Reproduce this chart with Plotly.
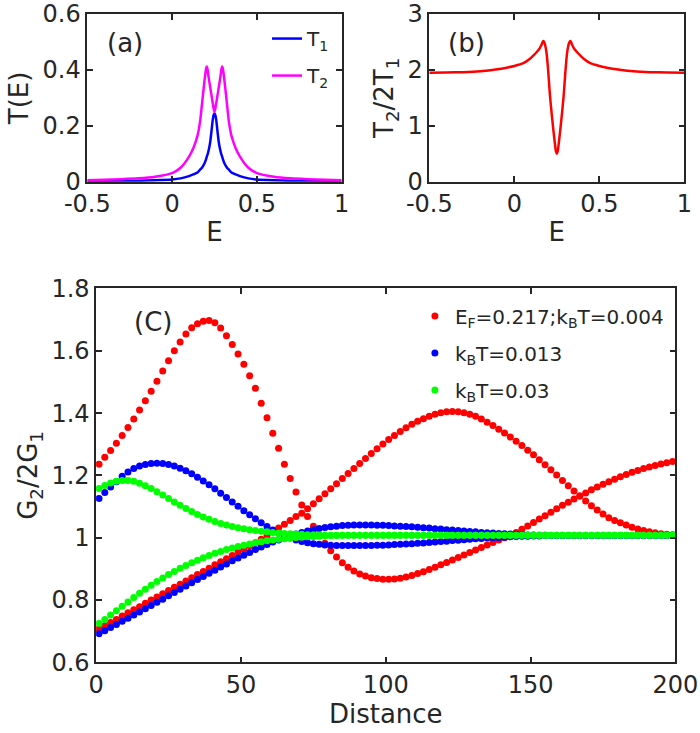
import plotly.graph_objects as go

# Painel (a): transmissões T1 e T2 em função da energia
energy_a = [
    -0.5, -0.4, -0.3, -0.2, -0.1, 0.0, 0.05, 0.1, 0.125, 0.15, 0.165, 0.175,
    0.19, 0.2, 0.204, 0.207, 0.21, 0.215, 0.22, 0.225, 0.23, 0.24, 0.245, 0.25,
    0.255, 0.26, 0.27, 0.275, 0.28, 0.285, 0.29, 0.293, 0.296, 0.3, 0.31,
    0.325, 0.335, 0.35, 0.375, 0.4, 0.45, 0.5, 0.6, 0.7, 0.8, 0.9, 1.0,
]
t1 = [
    0.001, 0.0015, 0.002, 0.003, 0.005, 0.008, 0.012, 0.02, 0.026, 0.033, 0.043,
    0.049, 0.064, 0.08, 0.088, 0.094, 0.099, 0.111, 0.125, 0.143, 0.168, 0.222,
    0.238, 0.245,
    0.238, 0.222, 0.168, 0.143, 0.125, 0.111, 0.099, 0.094, 0.088, 0.08, 0.064,
    0.049, 0.043, 0.033, 0.026, 0.02, 0.012, 0.008, 0.005, 0.003, 0.002, 0.0015,
    0.001,
]
t2 = [
    0.005, 0.007, 0.009, 0.012, 0.018, 0.031, 0.05, 0.09, 0.12, 0.165, 0.215,
    0.27, 0.355, 0.402, 0.412, 0.408, 0.398, 0.376, 0.356, 0.337, 0.318, 0.28,
    0.262, 0.25,
    0.262, 0.28, 0.318, 0.337, 0.356, 0.376, 0.398, 0.408, 0.412, 0.402, 0.355,
    0.27, 0.215, 0.165, 0.12, 0.09, 0.05, 0.031, 0.018, 0.012, 0.009, 0.007,
    0.005,
]

# Painel (b): razão T2/2T1
energy_b = [
    -0.5, -0.4, -0.3, -0.2, -0.1, -0.045, 0.0, 0.053, 0.092, 0.11, 0.132, 0.15,
    0.16, 0.167, 0.171, 0.175, 0.18, 0.185, 0.19, 0.195, 0.2, 0.205, 0.21,
    0.215, 0.22, 0.225, 0.23, 0.235, 0.24, 0.245, 0.25,
    0.255, 0.26, 0.265, 0.27, 0.275, 0.28, 0.285, 0.29, 0.295, 0.3, 0.305,
    0.31, 0.315, 0.32, 0.325, 0.329, 0.333, 0.34, 0.35, 0.368, 0.39, 0.408,
    0.447, 0.5, 0.545, 0.6, 0.7, 0.8, 0.9, 1.0,
]
ratio_b = [
    1.95, 1.955, 1.96, 1.975, 2.01, 2.04, 2.07, 2.12, 2.2, 2.25, 2.32, 2.39,
    2.45, 2.5, 2.515, 2.5, 2.46, 2.39, 2.29, 2.14, 1.95, 1.74, 1.53, 1.37,
    1.21, 1.06, 0.92, 0.78, 0.65, 0.54, 0.5,
    0.54, 0.65, 0.78, 0.92, 1.06, 1.21, 1.37, 1.53, 1.74, 1.95, 2.14, 2.29,
    2.39, 2.46, 2.5, 2.515, 2.5, 2.45, 2.39, 2.32, 2.25, 2.2, 2.12, 2.07, 2.04,
    2.01, 1.975, 1.96, 1.955, 1.95,
]

# Painel (C): G2/2G1 em função da distância (dois ramos por temperatura)
distance = list(range(1, 200, 2))

red_upper = [
    1.236, 1.258, 1.28, 1.303, 1.328, 1.354, 1.381, 1.41, 1.44, 1.47,
    1.502, 1.535, 1.568, 1.6, 1.628, 1.654, 1.674, 1.687, 1.695, 1.697,
    1.69, 1.673, 1.648, 1.62, 1.59, 1.557, 1.52, 1.48, 1.432, 1.385,
    1.335, 1.287, 1.236, 1.19, 1.147, 1.105, 1.068, 1.037, 1.008, 0.982,
    0.958, 0.938, 0.92, 0.905, 0.893, 0.884, 0.877, 0.872, 0.869, 0.867,
    0.867, 0.868, 0.87, 0.874, 0.879, 0.885, 0.891, 0.898, 0.905, 0.913,
    0.921, 0.929, 0.937, 0.945, 0.953, 0.961, 0.969, 0.977, 0.985, 0.993,
    1.0, 1.008, 1.017, 1.027, 1.038, 1.049, 1.06, 1.071, 1.082, 1.093,
    1.104, 1.114, 1.124, 1.134, 1.144, 1.154, 1.163, 1.172, 1.18, 1.188,
    1.196, 1.203, 1.21, 1.216, 1.222, 1.227, 1.232, 1.237, 1.241, 1.245,
]
red_lower = [
    0.708, 0.718, 0.728, 0.738, 0.749, 0.759, 0.769, 0.779, 0.79, 0.8,
    0.81, 0.82, 0.831, 0.841, 0.851, 0.861, 0.872, 0.882, 0.892, 0.902,
    0.913, 0.923, 0.933, 0.943, 0.954, 0.964, 0.974, 0.984, 0.995, 1.007,
    1.019, 1.031, 1.043, 1.055, 1.068, 1.079, 1.093, 1.109, 1.125, 1.141,
    1.157, 1.173, 1.19, 1.206, 1.222, 1.238, 1.254, 1.27, 1.286, 1.301,
    1.315, 1.328, 1.341, 1.353, 1.364, 1.374, 1.382, 1.39, 1.396, 1.401,
    1.404, 1.405, 1.404, 1.401, 1.396, 1.39, 1.381, 1.371, 1.36, 1.348,
    1.336, 1.323, 1.31, 1.296, 1.281, 1.266, 1.25, 1.234, 1.218, 1.201,
    1.184, 1.167, 1.15, 1.134, 1.118, 1.103, 1.089, 1.076, 1.064, 1.055,
    1.048, 1.041, 1.034, 1.028, 1.023, 1.019, 1.016, 1.013, 1.011, 1.01,
]
blue_upper = [
    1.126, 1.145, 1.163, 1.18, 1.197, 1.211, 1.222, 1.23, 1.235, 1.238,
    1.239, 1.238, 1.235, 1.23, 1.223, 1.215, 1.205, 1.194, 1.182, 1.17,
    1.157, 1.143, 1.129, 1.115, 1.101, 1.087, 1.074, 1.061, 1.048, 1.036,
    1.025, 1.015, 1.006, 0.999, 0.993, 0.988, 0.984, 0.981, 0.979, 0.977,
    0.976, 0.975, 0.975, 0.975, 0.975, 0.975, 0.975, 0.975, 0.976, 0.976,
    0.977, 0.978, 0.979, 0.98, 0.981, 0.982, 0.983, 0.985, 0.986, 0.988,
    0.989, 0.991, 0.992, 0.994, 0.995, 0.997, 0.998, 0.999, 1.0, 1.001,
    1.002, 1.003, 1.004, 1.005, 1.005, 1.006, 1.006, 1.007, 1.007, 1.007,
    1.007, 1.007, 1.007, 1.007, 1.007, 1.007, 1.007, 1.007, 1.007, 1.007,
    1.007, 1.007, 1.007, 1.007, 1.007, 1.007, 1.007, 1.007, 1.007, 1.007,
]
blue_lower = [
    0.692, 0.702, 0.712, 0.722, 0.732, 0.742, 0.752, 0.762, 0.772, 0.783,
    0.793, 0.803, 0.814, 0.824, 0.835, 0.845, 0.856, 0.866, 0.876, 0.886,
    0.896, 0.906, 0.916, 0.926, 0.935, 0.944, 0.953, 0.962, 0.97, 0.978,
    0.986, 0.993, 1.0, 1.006, 1.012, 1.017, 1.022, 1.026, 1.03, 1.033,
    1.035, 1.037, 1.039, 1.04, 1.041, 1.041, 1.041, 1.041, 1.04, 1.04,
    1.039, 1.038, 1.037, 1.036, 1.035, 1.034, 1.032, 1.031, 1.029, 1.028,
    1.026, 1.025, 1.023, 1.022, 1.02, 1.019, 1.017, 1.016, 1.015, 1.014,
    1.013, 1.012, 1.011, 1.01, 1.009, 1.009, 1.008, 1.008, 1.007, 1.007,
    1.007, 1.007, 1.007, 1.007, 1.007, 1.007, 1.007, 1.007, 1.007, 1.007,
    1.007, 1.007, 1.007, 1.007, 1.007, 1.007, 1.007, 1.007, 1.007, 1.007,
]
green_upper = [
    1.158, 1.168, 1.176, 1.181, 1.184, 1.184, 1.181, 1.175, 1.167, 1.158,
    1.148, 1.137, 1.126, 1.115, 1.104, 1.094, 1.084, 1.075, 1.067, 1.059,
    1.052, 1.046, 1.041, 1.036, 1.032, 1.029, 1.026, 1.023, 1.021, 1.019,
    1.017, 1.015, 1.014, 1.013, 1.012, 1.011, 1.01, 1.01, 1.009, 1.009,
    1.008, 1.008, 1.008, 1.008, 1.008, 1.008, 1.008, 1.008, 1.008, 1.008,
    1.008, 1.008, 1.008, 1.008, 1.008, 1.008, 1.008, 1.008, 1.008, 1.008,
    1.008, 1.008, 1.008, 1.008, 1.008, 1.008, 1.008, 1.008, 1.008, 1.008,
    1.008, 1.008, 1.008, 1.008, 1.008, 1.008, 1.008, 1.008, 1.008, 1.008,
    1.008, 1.008, 1.008, 1.008, 1.008, 1.008, 1.008, 1.008, 1.008, 1.008,
    1.008, 1.008, 1.008, 1.008, 1.008, 1.008, 1.008, 1.008, 1.008, 1.008,
]
green_lower = [
    0.725, 0.738, 0.752, 0.766, 0.78, 0.794, 0.808, 0.822, 0.835, 0.848,
    0.86, 0.871, 0.882, 0.892, 0.902, 0.911, 0.92, 0.928, 0.936, 0.943,
    0.95, 0.956, 0.962, 0.967, 0.972, 0.976, 0.98, 0.984, 0.987, 0.99,
    0.993, 0.995, 0.997, 0.999, 1.001, 1.002, 1.003, 1.004, 1.005, 1.006,
    1.007, 1.007, 1.008, 1.008, 1.008, 1.008, 1.008, 1.008, 1.008, 1.008,
    1.008, 1.008, 1.008, 1.008, 1.008, 1.008, 1.008, 1.008, 1.008, 1.008,
    1.008, 1.008, 1.008, 1.008, 1.008, 1.008, 1.008, 1.008, 1.008, 1.008,
    1.008, 1.008, 1.008, 1.008, 1.008, 1.008, 1.008, 1.008, 1.008, 1.008,
    1.008, 1.008, 1.008, 1.008, 1.008, 1.008, 1.008, 1.008, 1.008, 1.008,
    1.008, 1.008, 1.008, 1.008, 1.008, 1.008, 1.008, 1.008, 1.008, 1.008,
]

series_c = [
    ("E<sub>F</sub>=0.217;k<sub>B</sub>T=0.004", "#FF0000", red_upper, red_lower),
    ("k<sub>B</sub>T=0.013", "#0000FF", blue_upper, blue_lower),
    ("k<sub>B</sub>T=0.03", "#00FF00", green_upper, green_lower),
]

FONT = "DejaVu Sans"
INK = "#262626"

fig = go.Figure()

# Curvas do painel (a)
fig.add_trace(
    go.Scatter(
        x=energy_a, y=t1, mode="lines", name="T<sub>1</sub>", legendgroup="t1",
        line=dict(color="#0000FF", width=2.5, shape="spline", smoothing=0.5),
        xaxis="x", yaxis="y", legend="legend",
    )
)
fig.add_trace(
    go.Scatter(
        x=energy_a, y=t2, mode="lines", name="T<sub>2</sub>", legendgroup="t2",
        line=dict(color="#FF00FF", width=2.5, shape="spline", smoothing=0.5),
        xaxis="x", yaxis="y", legend="legend",
    )
)

# Curva do painel (b)
fig.add_trace(
    go.Scatter(
        x=energy_b, y=ratio_b, mode="lines", showlegend=False,
        line=dict(color="#FF0000", width=2.5, shape="spline", smoothing=0.5),
        xaxis="x2", yaxis="y2",
    )
)

# Pontos do painel (C)
for name, color, upper, lower in series_c:
    fig.add_trace(
        go.Scatter(
            x=distance + distance, y=upper + lower, mode="markers", name=name,
            legendgroup=color, marker=dict(color=color, size=7),
            xaxis="x3", yaxis="y3", legend="legend2",
        )
    )

axis_style = dict(
    showline=True, linecolor=INK, linewidth=1.5, mirror="ticks",
    ticks="inside", ticklen=6, tickwidth=1.5, tickcolor=INK,
    showgrid=False, zeroline=False, tickmode="array", automargin=False,
    tickfont=dict(family=FONT, size=24, color=INK),
    title_font=dict(family=FONT, size=26, color=INK),
)

label_font = dict(family=FONT, size=26, color=INK)

fig.update_layout(
    width=700,
    height=733,
    margin=dict(l=0, r=0, t=0, b=0),
    plot_bgcolor="white",
    paper_bgcolor="white",
    font=dict(family=FONT, color=INK),
    xaxis=dict(
        axis_style, domain=[0.1247, 0.4881], range=[-0.5, 1], anchor="y",
        tickvals=[-0.5, 0, 0.5, 1], ticktext=["-0.5", "0", "0.5", "1"],
        title=dict(text="E", standoff=6),
    ),
    yaxis=dict(
        axis_style, domain=[0.7521, 0.9809], range=[0, 0.6], anchor="x",
        tickvals=[0, 0.2, 0.4, 0.6], ticktext=["0", "0.2", "0.4", "0.6"],
        title=dict(text="T(E)", standoff=6),
    ),
    xaxis2=dict(
        axis_style, domain=[0.6133, 0.9776], range=[-0.5, 1], anchor="y2",
        tickvals=[-0.5, 0, 0.5, 1], ticktext=["-0.5", "0", "0.5", "1"],
        title=dict(text="E", standoff=6),
    ),
    yaxis2=dict(
        axis_style, domain=[0.7521, 0.9809], range=[0, 3], anchor="x2",
        tickvals=[0, 1, 2, 3], ticktext=["0", "1", "2", "3"],
        title=dict(text="T<sub>2</sub>/2T<sub>1</sub>", standoff=6),
    ),
    xaxis3=dict(
        axis_style, domain=[0.1373, 0.9649], range=[0, 200], anchor="y3",
        tickvals=[0, 50, 100, 150, 200],
        ticktext=["0", "50", "100", "150", "200"],
        title=dict(text="Distance", standoff=6),
    ),
    yaxis3=dict(
        axis_style, domain=[0.0963, 0.6065], range=[0.6, 1.8], anchor="x3",
        tickvals=[0.6, 0.8, 1.0, 1.2, 1.4, 1.6, 1.8],
        ticktext=["0.6", "0.8", "1", "1.2", "1.4", "1.6", "1.8"],
        title=dict(text="G<sub>2</sub>/2G<sub>1</sub>", standoff=6),
    ),
    legend=dict(
        x=0.4786, y=0.974, xanchor="right", yanchor="top",
        bgcolor="rgba(0,0,0,0)", itemwidth=30, tracegroupgap=8,
        font=dict(family=FONT, size=20, color=INK),
    ),
    legend2=dict(
        x=0.5927, y=0.5954, xanchor="left", yanchor="top",
        bgcolor="rgba(0,0,0,0)", tracegroupgap=8,
        font=dict(family=FONT, size=20, color=INK),
    ),
    annotations=[
        dict(text="(a)", x=0.1786, y=0.9413, xref="paper", yref="paper",
             xanchor="center", yanchor="middle", showarrow=False,
             font=label_font),
        dict(text="(b)", x=0.6671, y=0.9413, xref="paper", yref="paper",
             xanchor="center", yanchor="middle", showarrow=False,
             font=label_font),
        dict(text="(C)", x=0.2186, y=0.5607, xref="paper", yref="paper",
             xanchor="center", yanchor="middle", showarrow=False,
             font=label_font),
    ],
)

# Remove a margem padrão da página para a figura ocupar a janela inteira
fig.write_html(
    "out.html",
    config={"displayModeBar": False},
    post_script="document.body.style.margin = '0'; document.body.style.overflow = 'hidden';",
)
